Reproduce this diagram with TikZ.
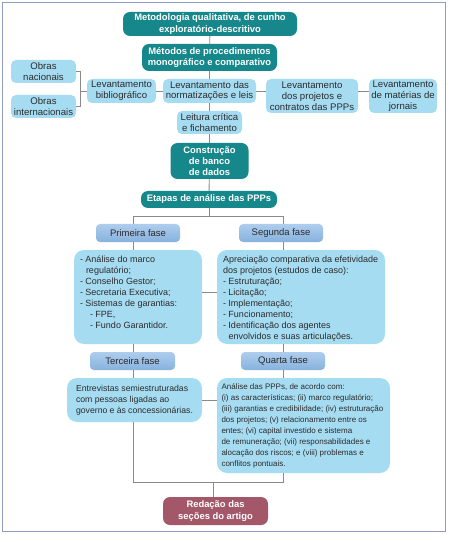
\documentclass[tikz,border=0pt]{standalone}
\usepackage{fontspec}
\setmainfont{Liberation Sans}
\definecolor{tealc}{HTML}{16878A}
\definecolor{lightc}{HTML}{A6DCF2}
\definecolor{phasetop}{HTML}{AECDEE}
\definecolor{phasebot}{HTML}{86B2DD}
\definecolor{rosec}{HTML}{A25868}
\definecolor{linec}{HTML}{8A8A8A}
\definecolor{framec}{HTML}{8E9CC0}
\definecolor{txtc}{HTML}{2B2B2B}
\begin{document}
\begin{tikzpicture}[x=1pt,y=-1pt,
  tealbox/.style={fill=tealc, rounded corners=7pt, text=white, align=center, inner sep=0pt,
    font=\fontsize{9.4}{11.2}\selectfont\bfseries},
  lbox/.style={fill=lightc, rounded corners=5pt, text=txtc, align=center, inner sep=0pt,
    font=\fontsize{9.6}{10.8}\selectfont},
  phasebox/.style={top color=phasetop, bottom color=phasebot, rounded corners=4pt, text=txtc,
    inner sep=0pt, minimum width=84pt, minimum height=18pt, font=\fontsize{9.5}{11}\selectfont},
  bigbox/.style={fill=lightc, rounded corners=10pt, text=txtc, inner xsep=6pt, inner ysep=5pt},
  rosebox/.style={fill=rosec, rounded corners=7pt, text=white, align=center, inner sep=0pt,
    font=\fontsize{9.4}{11.2}\selectfont\bfseries},
  conn/.style={draw=linec, line width=0.9pt}
]
\useasboundingbox (0,0) rectangle (448,534);
\draw[framec, line width=1.3pt] (2.5,2.5) rectangle (445.5,531.5);

% top chain
\node[tealbox, minimum width=174pt, minimum height=24pt] (meto) at (210,24)
  {Metodologia qualitativa, de cunho\\exploratório-descritivo};
\node[tealbox, minimum width=135pt, minimum height=27pt] (metodos) at (209.5,57.5)
  {Métodos de procedimentos\\monográfico e comparativo};

\node[lbox, minimum width=65pt, minimum height=23pt] (obrasN) at (43.5,71.5) {Obras\\nacionais};
\node[lbox, minimum width=65pt, minimum height=23pt] (obrasI) at (43.5,106.5) {Obras\\internacionais};
\node[lbox, minimum width=69pt, minimum height=24pt] (levBib) at (121.5,91) {Levantamento\\bibliográfico};
\node[lbox, minimum width=93pt, minimum height=24pt] (levNorm) at (209.5,91) {Levantamento das\\normatizações e leis};
\node[lbox, minimum width=92pt, minimum height=34pt] (levProj) at (312,96) {Levantamento\\dos projetos e\\contratos das PPPs};
\node[lbox, minimum width=68pt, minimum height=34pt] (levJorn) at (403,96) {Levantamento\\de matérias de\\jornais};
\node[lbox, minimum width=65pt, minimum height=23pt] (leitura) at (209.5,122.5) {Leitura crítica\\e fichamento};

\node[tealbox, minimum width=78pt, minimum height=36pt] (constr) at (209.5,161) {Construção\\de banco\\de dados};
\node[tealbox, minimum width=136pt, minimum height=17pt] (etapas) at (209,199.5) {Etapas de análise das PPPs};

% phases
\node[phasebox] (prim) at (138,233) {Primeira fase};
\node[phasebox] (seg) at (281,233) {Segunda fase};

\node[bigbox, inner ysep=6pt] (primBox) at (138,297)
 {\parbox[c][82pt][t]{116pt}{\fontsize{9}{11}\selectfont\raggedright
 - Análise do marco\\
 \hspace*{6pt}regulatório;\\
 - Conselho Gestor;\\
 - Secretaria Executiva;\\
 - Sistemas de garantias:\\
 \hspace*{10pt}- FPE,\\
 \hspace*{10pt}- Fundo Garantidor.}};

\node[bigbox, inner ysep=6pt] (segBox) at (301,297)
 {\parbox[c][82pt][t]{156pt}{\fontsize{9}{11}\selectfont\raggedright
 Apreciação comparativa da efetividade\\
 dos projetos (estudos de caso):\\
 - Estruturação;\\
 - Licitação;\\
 - Implementação;\\
 - Funcionamento;\\
 - Identificação dos agentes\\
 \hspace*{5.5pt}envolvidos e suas articulações.}};

\node[phasebox, minimum width=85pt] (terc) at (132.5,361) {Terceira fase};
\node[phasebox] (quarta) at (283,361) {Quarta fase};

\node[bigbox, inner xsep=9pt, inner ysep=0pt] (tercBox) at (134.5,400)
 {\parbox[c][44pt][c]{117pt}{\fontsize{8.7}{11}\selectfont\raggedright
 Entrevistas semiestruturadas\\
 com pessoas ligadas ao\\
 governo e às concessionárias.}};

\node[bigbox, inner xsep=4.5pt, inner ysep=6pt] (quartaBox) at (303.5,425.5)
 {\parbox[c][83pt][t]{164pt}{\fontsize{8.0}{11}\selectfont\raggedright
 Análise das PPPs, de acordo com:\\
 (i) as características; (ii) marco regulatório;\\
 (iii) garantias e credibilidade; (iv) estruturação\\
 dos projetos; (v) relacionamento entre os\\
 entes; (vi) capital investido e sistema\\
 de remuneração; (vii) responsabilidades e\\
 alocação dos riscos; e (viii) problemas e\\
 conflitos pontuais.}};

\node[rosebox, minimum width=105pt, minimum height=28pt] (redacao) at (215.5,511)
  {Redação das\\seções do artigo};

% connectors
\coordinate (br) at (80,91);
\coordinate (jL) at (133,216);
\coordinate (jR) at (283,216);
\coordinate (bL) at (133,482);
\coordinate (bR) at (283,482);
\coordinate (bM) at (213,482);

\draw[conn] (meto) -- (metodos);
\draw[conn] (metodos) -- (levNorm);
\draw[conn] (levNorm) -- (leitura);
\draw[conn] (leitura) -- (constr);
\draw[conn] (constr) -- (etapas);

\draw[conn] (obrasN.east) -| (br);
\draw[conn] (obrasI.east) -| (br);
\draw[conn] (br) -- (levBib.west);
\draw[conn] (levBib.east) -- (levNorm.west);
\draw[conn] (levNorm.east) -- (levNorm.east -| levProj.west);
\draw[conn] (levNorm.east -| levProj.east) -- (levNorm.east -| levJorn.west);

\draw[conn] (etapas.south) -- (etapas.south |- jL);
\draw[conn] (jL) -- (jR);
\draw[conn] (jL) -- (jL |- prim.north);
\draw[conn] (jR) -- (jR |- seg.north);
\draw[conn] (prim.south -| jL) -- (primBox.north -| jL);
\draw[conn] (seg.south -| jR) -- (segBox.north -| jR);
\draw[conn] ([yshift=5pt]primBox.east) -- ([yshift=5pt]primBox.east -| segBox.west);
\draw[conn] (primBox.south -| jL) -- (terc.north -| jL);
\draw[conn] (segBox.south -| jR) -- (quarta.north -| jR);
\draw[conn] (terc.south -| jL) -- (tercBox.north -| jL);
\draw[conn] (quarta.south -| jR) -- (quartaBox.north -| jR);
\draw[conn] (tercBox.east) -- (tercBox.east -| quartaBox.west);
\draw[conn] (tercBox.south -| jL) -- (bL) -- (bR) -- (quartaBox.south -| jR);
\draw[conn] (bM) -- (redacao.north -| bM);
\end{tikzpicture}
\end{document}
